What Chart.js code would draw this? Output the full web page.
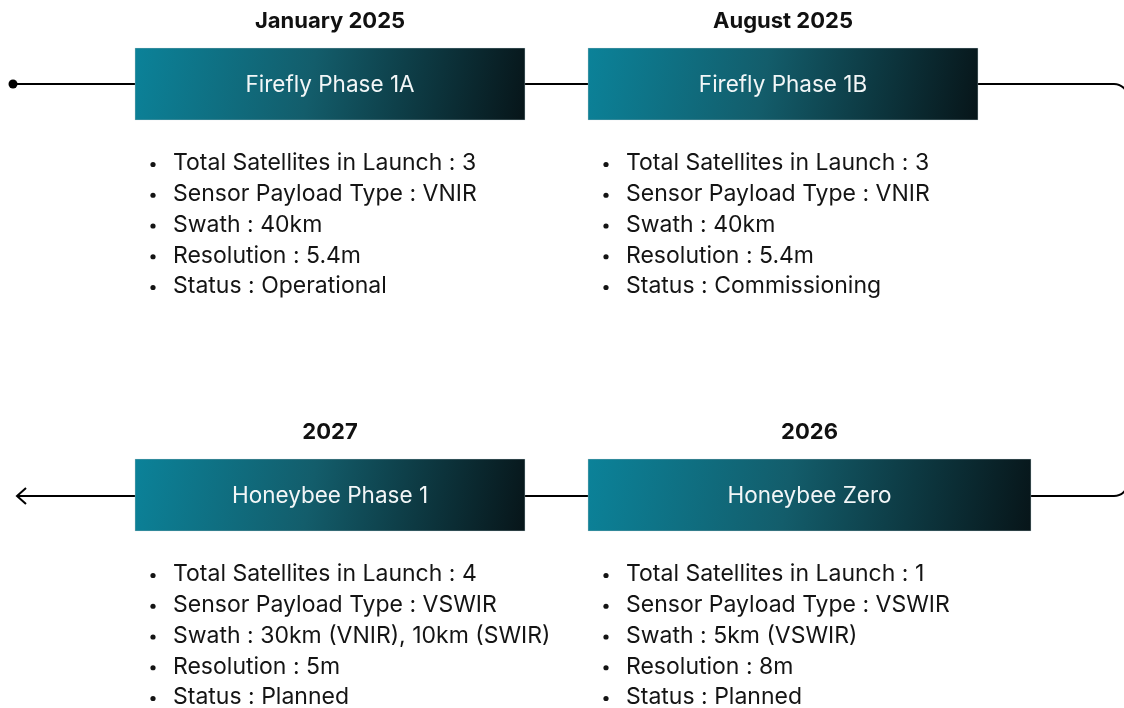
<!DOCTYPE html>
<html>
<head>
<meta charset="utf-8">
<script src="https://cdn.jsdelivr.net/npm/chart.js@4.4.1/dist/chart.umd.min.js"></script>
<style>
  html, body { margin: 0; padding: 0; background: #fff; }
  #wrap { position: relative; width: 1124px; height: 708px; }
</style>
</head>
<body>
<div id="wrap"><canvas id="timeline"></canvas></div>
<script>
// timeline data
const phases = ['Firefly Phase 1A', 'Firefly Phase 1B', 'Honeybee Phase 1', 'Honeybee Zero'];
const launchDates = ['January 2025', 'August 2025', '2027', '2026'];
const satellites = [3, 3, 4, 1];
const payloads = ['VNIR', 'VNIR', 'VSWIR', 'VSWIR'];
const swaths = ['40km', '40km', '30km (VNIR), 10km (SWIR)', '5km (VSWIR)'];
const resolutions = ['5.4m', '5.4m', '5m', '8m'];
const statuses = ['Operational', 'Commissioning', 'Planned', 'Planned'];

// layout (page units = pixels)
const boxLeft = [135, 588, 135, 588];
const boxRight = [525, 978, 525, 1031];
const rowY = [84, 84, 495, 495];
const BOX_H = 72;
const lineStart = 13;
const lineEnd = 1114;
const FONT = 'Inter, Roboto, sans-serif';

// 항목별 bullet 텍스트
const details = phases.map((p, i) => [
  'Total Satellites in Launch : ' + satellites[i],
  'Sensor Payload Type : ' + payloads[i],
  'Swath : ' + swaths[i],
  'Resolution : ' + resolutions[i],
  'Status : ' + statuses[i]
]);

const boxGradient = (c) => {
  const chart = c.chart;
  if (c.type !== 'data' || !chart.chartArea) return '#0c7f95';
  const { x, y } = chart.scales;
  const i = c.dataIndex;
  const x0 = x.getPixelForValue(boxLeft[i]);
  const x1 = x.getPixelForValue(boxRight[i]);
  const yc = y.getPixelForValue(rowY[i]);
  if (![x0, x1, yc].every(Number.isFinite)) return '#0c7f95';
  const g = chart.ctx.createLinearGradient(x0, yc - BOX_H / 2, x1, yc + BOX_H / 2);
  g.addColorStop(0, '#0b8299');
  g.addColorStop(0.45, '#135d6b');
  g.addColorStop(1, '#071519');
  return g;
};

// 연결선, 화살표, 텍스트
const overlay = {
  id: 'overlay',
  beforeDatasetsDraw(chart) {
    const { ctx, scales: { x, y } } = chart;
    const xe = x.getPixelForValue(lineEnd);
    const yt = y.getPixelForValue(rowY[0]);
    const yb = y.getPixelForValue(rowY[2] + 1);
    const r = 14;
    ctx.save();
    ctx.strokeStyle = '#000';
    ctx.lineWidth = 2;
    // right side rounded connector (mostly off canvas)
    ctx.beginPath();
    ctx.moveTo(xe - 2, yt);
    ctx.arcTo(xe + r, yt, xe + r, yt + r, r);
    ctx.lineTo(xe + r, yb - r);
    ctx.arcTo(xe + r, yb, xe - 2, yb, r);
    ctx.stroke();
    // arrow head at the end of bottom line
    const xa = x.getPixelForValue(lineStart + 4);
    ctx.beginPath();
    ctx.moveTo(xa + 9, yb - 8);
    ctx.lineTo(xa, yb);
    ctx.lineTo(xa + 9, yb + 8);
    ctx.stroke();
    ctx.restore();
  },
  afterDatasetsDraw(chart) {
    const { ctx } = chart;
    const bars = chart.getDatasetMeta(2).data;
    ctx.save();
    bars.forEach((bar, i) => {
      const left = Math.min(bar.x, bar.base);
      const right = Math.max(bar.x, bar.base);
      const cx = (left + right) / 2;
      const top = bar.y - bar.height / 2;
      const bottom = bar.y + bar.height / 2;

      ctx.textAlign = 'center';
      ctx.textBaseline = 'middle';
      ctx.fillStyle = '#111';
      ctx.font = 'bold 22px ' + FONT;
      ctx.fillText(launchDates[i], cx, top - 27);

      ctx.fillStyle = '#f2f6f7';
      ctx.font = '22.5px ' + FONT;
      ctx.fillText(phases[i], cx, bar.y + 1);

      ctx.textAlign = 'left';
      ctx.fillStyle = '#141414';
      ctx.font = '23px ' + FONT;
      details[i].forEach((t, k) => {
        const ty = bottom + 43.5 + k * 30.75;
        ctx.beginPath();
        ctx.arc(left + 18, ty + 1, 2.6, 0, Math.PI * 2);
        ctx.fill();
        ctx.fillText(t, left + 38, ty);
      });
    });
    ctx.restore();
  }
};

new Chart(document.getElementById('timeline'), {
  type: 'bar',
  data: {
    datasets: [
      {
        type: 'line',
        data: [{ x: lineStart, y: rowY[0] }, { x: lineEnd, y: rowY[0] }],
        borderColor: '#000',
        borderWidth: 2,
        pointRadius: [4.5, 0],
        pointBackgroundColor: '#000',
        pointBorderWidth: 0,
        order: 3
      },
      {
        type: 'line',
        data: [{ x: lineStart + 4, y: rowY[2] + 1 }, { x: lineEnd, y: rowY[2] + 1 }],
        borderColor: '#000',
        borderWidth: 2,
        pointRadius: 0,
        order: 2
      },
      {
        type: 'bar',
        indexAxis: 'y',
        data: phases.map((p, i) => ({ x: [boxLeft[i], boxRight[i]], y: rowY[i] })),
        backgroundColor: boxGradient,
        borderColor: '#9fb4b8',
        borderWidth: 0.6,
        borderSkipped: false,
        barThickness: BOX_H,
        order: 1
      }
    ]
  },
  options: {
    responsive: true,
    maintainAspectRatio: false,
    animation: false,
    layout: { padding: 0, autoPadding: false },
    plugins: {
      legend: { display: false },
      tooltip: { enabled: false }
    },
    scales: {
      x: { type: 'linear', min: 0, max: 1124, offset: false, grace: 0, display: false },
      y: { type: 'linear', min: 0, max: 708, reverse: true, offset: false, grace: 0, display: false }
    }
  },
  plugins: [overlay]
});
</script>
</body>
</html>
